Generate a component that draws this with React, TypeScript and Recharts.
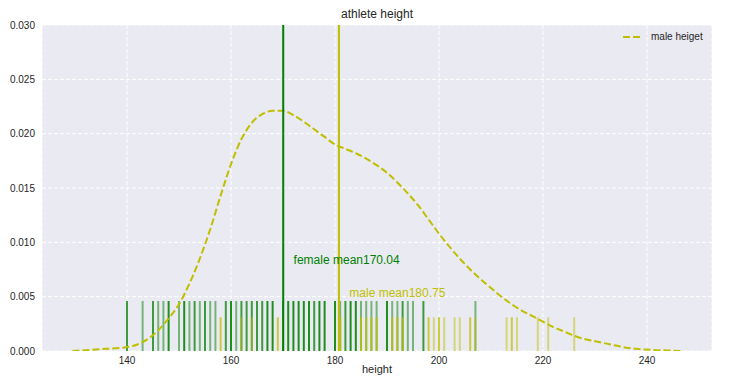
import { ComposedChart, Line, XAxis, YAxis, CartesianGrid, ReferenceLine, ReferenceDot } from 'recharts'

const FONT = '"Liberation Sans", Arial, sans-serif'
const GREEN = '#008000'
const YELLOW = '#bfbf00'
const INK = '#262626'

// kde of heights
const kdeX = [129.5, 133, 136, 139, 142, 144, 146, 148, 150, 152, 154, 156, 158, 160, 162, 164, 166, 168, 170, 172, 174, 176, 178, 180, 182, 184, 186, 188, 190, 192, 194, 196, 198, 200, 202, 204, 206, 208, 210, 212, 214, 216, 218, 220, 222, 224, 226, 228, 230, 232, 234, 236, 238, 241, 244, 247]
const kdeY = [0, 0.0001, 0.0002, 0.0003, 0.0006, 0.0011, 0.0019, 0.003, 0.0043, 0.0062, 0.0085, 0.0112, 0.0143, 0.0172, 0.0195, 0.021, 0.0218, 0.0221, 0.0221, 0.0217, 0.0211, 0.0204, 0.0197, 0.019, 0.0186, 0.0182, 0.0177, 0.0171, 0.0164, 0.0155, 0.0145, 0.0134, 0.0121, 0.0108, 0.0096, 0.0085, 0.0075, 0.0066, 0.0058, 0.005, 0.0043, 0.0037, 0.0032, 0.0027, 0.0022, 0.0018, 0.0014, 0.0011, 0.0009, 0.0007, 0.0005, 0.0003, 0.0002, 0.0001, 0.00005, 0]

// rug ticks: height value and how many athletes share it
const femaleRug = [140, 143, 145, 146, 147, 148, 150, 151, 152, 153, 154, 155, 156, 157, 159, 160, 161, 162, 163, 164, 165, 166, 167, 168, 170, 171, 172, 173, 174, 175, 176, 177, 178, 180, 181, 182, 183, 184, 185, 186, 187, 188, 190, 191, 192, 193, 194, 195, 197, 207]
const femaleRugCount = [2, 1, 2, 1, 1, 3, 1, 3, 1, 2, 1, 2, 1, 1, 2, 3, 1, 2, 2, 2, 2, 2, 3, 3, 1, 3, 3, 3, 3, 3, 2, 3, 3, 3, 1, 2, 3, 3, 1, 1, 1, 1, 3, 1, 1, 2, 1, 1, 2, 1]
const maleRug = [158, 162, 164, 169, 170, 181, 185, 186, 187, 188, 191, 192, 193, 198, 199, 200, 201, 203, 204, 206, 207, 213, 214, 215, 219, 221, 226]
const maleRugCount = [2, 1, 1, 2, 1, 2, 2, 2, 2, 2, 2, 2, 2, 2, 1, 2, 1, 1, 1, 2, 1, 1, 2, 1, 1, 1, 1]

const femaleMean = 170.04
const maleMean = 180.75

const xTicks = [140, 160, 180, 200, 220, 240]
const yTicks = [0, 0.005, 0.01, 0.015, 0.02, 0.025, 0.03]

const kdeData = kdeX.map((x, i) => ({ height: x, density: kdeY[i] }))
const alpha = (n: number) => 1 - Math.pow(0.5, n)

export default function App() {
  return (
    <div style={{ position: 'absolute', left: 0, top: 0, width: 744, height: 376, fontFamily: FONT }}>
      <div style={{ position: 'absolute', left: 42, width: 670, top: 7, textAlign: 'center', fontSize: 12, color: INK }}>
        athlete height
      </div>
      <ComposedChart width={744} height={376} margin={{ top: 25, right: 32, bottom: 0, left: 0 }}>
        <CartesianGrid fill="#eaeaf2" stroke="#fff" strokeDasharray="4 2" />
        <XAxis
          type="number"
          dataKey="height"
          domain={[123.65, 252.5]}
          ticks={xTicks}
          allowDataOverflow
          height={25}
          axisLine={false}
          tickLine={false}
          tickSize={0}
          tickMargin={6}
          tick={{ fontSize: 10, fill: INK, fontFamily: FONT }}
          label={{ value: 'height', position: 'insideBottom', offset: 3, fontSize: 11, fill: INK, fontFamily: FONT }}
        />
        <YAxis
          type="number"
          domain={[0, 0.03]}
          ticks={yTicks}
          allowDataOverflow
          width={42}
          axisLine={false}
          tickLine={false}
          tickSize={0}
          tickMargin={7}
          tickFormatter={(v: number) => v.toFixed(3)}
          tick={{ fontSize: 10, fill: INK, fontFamily: FONT }}
        />
        {femaleRug.map((h, i) => (
          <ReferenceLine key={'f' + i} segment={[{ x: h, y: 0 }, { x: h, y: 0.0046 }]} stroke={GREEN} strokeWidth={2} strokeOpacity={alpha(femaleRugCount[i])} />
        ))}
        {maleRug.map((h, i) => (
          <ReferenceLine key={'m' + i} segment={[{ x: h, y: 0 }, { x: h, y: 0.0031 }]} stroke={YELLOW} strokeWidth={2} strokeOpacity={alpha(maleRugCount[i])} />
        ))}
        <Line
          data={kdeData}
          dataKey="density"
          name="male heiget"
          type="monotone"
          stroke={YELLOW}
          strokeWidth={2}
          strokeDasharray="7 3"
          dot={false}
          isAnimationActive={false}
        />
        <ReferenceLine x={femaleMean} stroke={GREEN} strokeWidth={2} />
        <ReferenceLine x={maleMean} stroke={YELLOW} strokeWidth={2} />
        <ReferenceDot
          x={femaleMean + 2}
          y={0.008}
          r={0}
          shape={(p: any) => (
            <text x={p.cx} y={p.cy} fill={GREEN} fontSize={12} fontFamily={FONT}>
              {'female mean' + femaleMean}
            </text>
          )}
        />
        <ReferenceDot
          x={maleMean + 2}
          y={0.005}
          r={0}
          shape={(p: any) => (
            <text x={p.cx} y={p.cy} fill={YELLOW} fontSize={12} fontFamily={FONT}>
              {'male mean' + maleMean}
            </text>
          )}
        />
      </ComposedChart>
      <div style={{ position: 'absolute', left: 623, top: 31, display: 'flex', alignItems: 'center', fontSize: 10, color: INK }}>
        <svg width={18} height={6}>
          <line x1={0} y1={3} x2={18} y2={3} stroke={YELLOW} strokeWidth={2} strokeDasharray="7 3" />
        </svg>
        <span style={{ marginLeft: 10 }}>male heiget</span>
      </div>
    </div>
  )
}
